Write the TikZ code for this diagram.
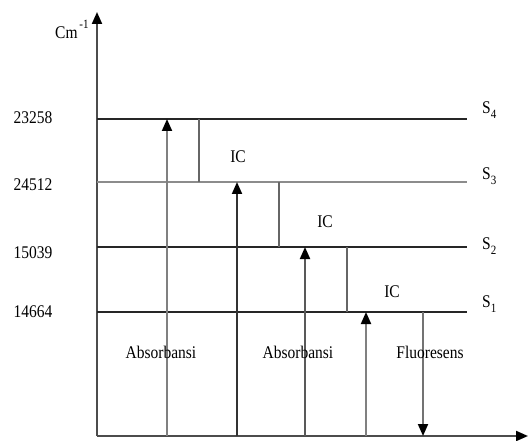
\documentclass[tikz,border=0pt]{standalone}
\usepackage{fontspec}
\setmainfont{Liberation Serif}
\usetikzlibrary{arrows.meta}
\begin{document}
\begin{tikzpicture}[x=1pt,y=-1pt,
  lvl/.style={line width=1.7pt,draw=black!85},
  lvlgray/.style={line width=2.8pt,draw=black!45},
  ax/.style={line width=2pt,draw=black!70},
  tip/.style={-{Triangle[width=10pt,length=12pt,color=black]}},
  up/.style={tip,line width=1.9pt},
  icline/.style={line width=1.8pt,draw=black!60},
  lab/.style={font=\fontsize{15.5}{15.5}\selectfont,inner sep=0pt,yscale=1.15}]
\useasboundingbox (0,0) rectangle (528,441);
% axes
\coordinate (O) at (97,436);
\coordinate (ytop) at (97,12);
\coordinate (xend) at (528,436);
\draw[ax,tip] (O) -- (ytop);
\draw[ax,tip] (O) -- (xend);
% levels
\coordinate (s4a) at (97,119); \coordinate (s4b) at (467,119);
\coordinate (s3a) at (97,182); \coordinate (s3b) at (467,182);
\coordinate (s2a) at (97,247); \coordinate (s2b) at (467,247);
\coordinate (s1a) at (97,312); \coordinate (s1b) at (467,312);
\draw[lvl] (s4a) -- (s4b);
\draw[lvlgray] (s3a) -- (s3b);
\draw[lvl] (s2a) -- (s2b);
\draw[lvl] (s1a) -- (s1b);
% IC lines
\coordinate (ic1a) at (199,119); \coordinate (ic1b) at (199,182);
\coordinate (ic2a) at (279,182); \coordinate (ic2b) at (279,247);
\coordinate (ic3a) at (347,247); \coordinate (ic3b) at (347,312);
\draw[icline] (ic1a) -- (ic1b);
\draw[icline] (ic2a) -- (ic2b);
\draw[icline] (ic3a) -- (ic3b);
% absorption arrows
\coordinate (a1b) at (167,436); \coordinate (a1t) at (167,119);
\coordinate (a2b) at (237,436); \coordinate (a2t) at (237,182);
\coordinate (a3b) at (305,436); \coordinate (a3t) at (305,247);
\coordinate (a4b) at (366,436); \coordinate (a4t) at (366,312);
\draw[up,draw=black!50] (a1b) -- (a1t);
\draw[up,draw=black!80] (a2b) -- (a2t);
\draw[up,draw=black!65] (a3b) -- (a3t);
\draw[up,draw=black!50] (a4b) -- (a4t);
% fluorescence
\coordinate (ft) at (423,312); \coordinate (fb) at (423,436);
\draw[up,draw=black!55] (ft) -- (fb);
% value labels
\node[lab] (v4) at (33,118) {23258};
\node[lab] (v3) at (33,185) {24512};
\node[lab] (v2) at (33,253) {15039};
\node[lab] (v1) at (33,312) {14664};
\node[lab,anchor=base west] (unit) at (55,39) {Cm\raisebox{0.6em}{\fontsize{11}{11}\selectfont\,-1}};
% state labels
\node[lab,anchor=west] (S4) at (482,110) {S\raisebox{-0.25em}{\fontsize{11}{11}\selectfont 4}};
\node[lab,anchor=west] (S3) at (482,176) {S\raisebox{-0.25em}{\fontsize{11}{11}\selectfont 3}};
\node[lab,anchor=west] (S2) at (482,246) {S\raisebox{-0.25em}{\fontsize{11}{11}\selectfont 2}};
\node[lab,anchor=west] (S1) at (482,304) {S\raisebox{-0.25em}{\fontsize{11}{11}\selectfont 1}};
% IC labels
\node[lab] (ic1) at (238,157) {IC};
\node[lab] (ic2) at (325,222) {IC};
\node[lab] (ic3) at (392,292) {IC};
% process labels
\node[lab] (ab1) at (161,352) {Absorbansi};
\node[lab] (ab2) at (298,352) {Absorbansi};
\node[lab] (fl) at (430,352) {Fluoresens};
\end{tikzpicture}
\end{document}
